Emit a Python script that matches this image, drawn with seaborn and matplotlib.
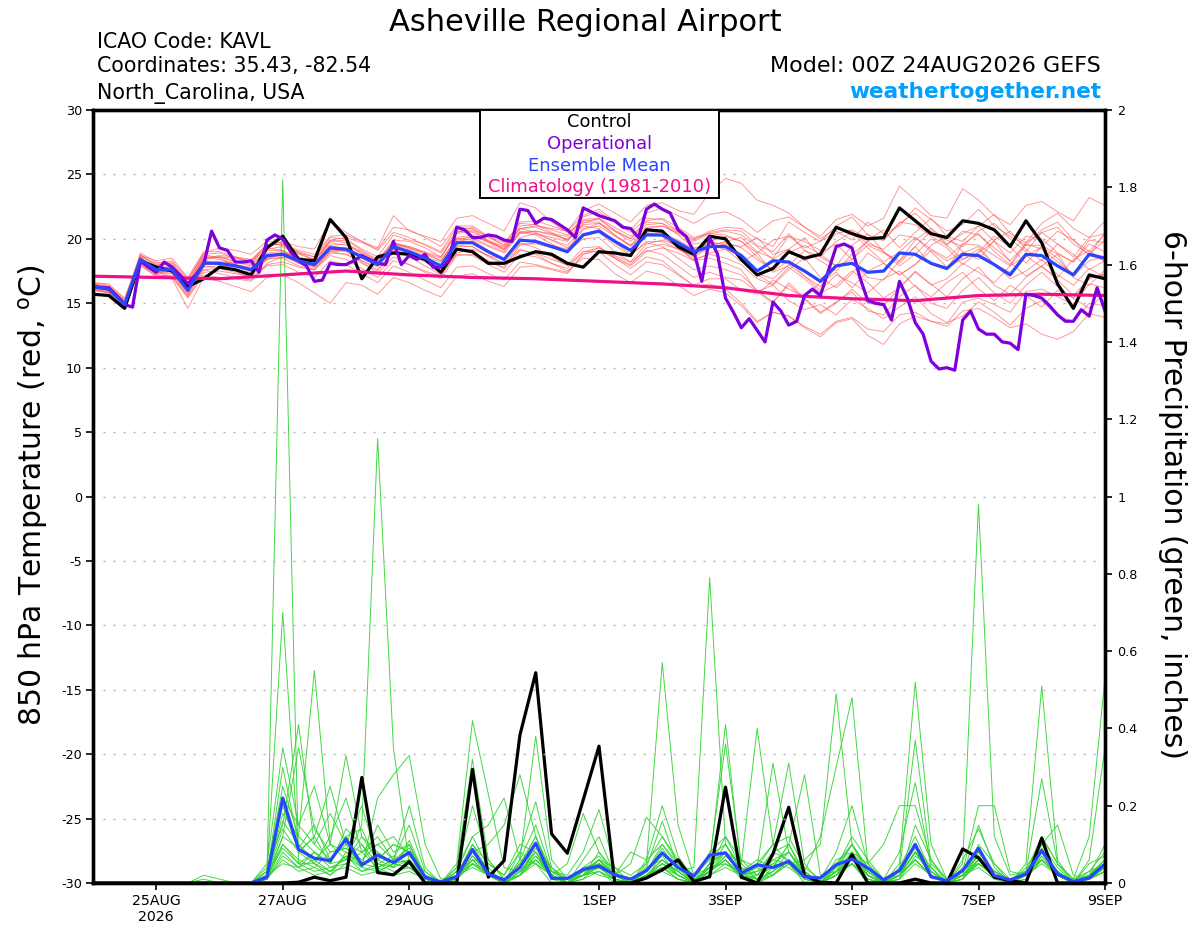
import numpy as np
import pandas as pd
import matplotlib
matplotlib.use("Agg")
import matplotlib.pyplot as plt
from matplotlib.patches import Rectangle
import seaborn as sns

# ------------------------------------------------------------
# GEFS meteogram - Asheville Regional Airport (KAVL)
# 850 hPa temperature (left axis) + 6-hour precipitation (right axis)
# ------------------------------------------------------------

sns.set_theme(style="ticks")
plt.rcParams["font.family"] = ["DejaVu Sans"]
plt.rcParams["axes.unicode_minus"] = False
plt.rcParams["mathtext.default"] = "regular"
plt.rcParams.update({"text.color": "black", "axes.labelcolor": "black",
                     "xtick.color": "black", "ytick.color": "black"})

# time axis: hours after 00Z 24AUG2026
hours = np.arange(0, 385, 6)        # ensemble, 6-hourly
op_hours = np.arange(0, 385, 3)     # operational run, 3-hourly
clim_hours = np.arange(0, 385, 24)  # climatology, daily
tick_hours = [24, 72, 120, 192, 240, 288, 336, 384]
tick_labels = ["25AUG\n2026", "27AUG", "29AUG", "1SEP", "3SEP", "5SEP", "7SEP", "9SEP"]
temp_ticks = [-30, -25, -20, -15, -10, -5, 0, 5, 10, 15, 20, 25, 30]
precip_ticks = [0, 0.2, 0.4, 0.6, 0.8, 1, 1.2, 1.4, 1.6, 1.8, 2]

# ---------------- 850 hPa temperature (deg C) ----------------
control_temp = [15.7, 15.6, 14.6, 18.3, 17.8, 17.5, 16.3, 16.9, 17.8, 17.6, 17.2, 19.3,
                20.2, 18.4, 18.3, 21.5, 20.1, 16.9, 18.6, 18.9, 18.8, 18.4, 17.4, 19.2,
                19.0, 18.1, 18.1, 18.6, 19.0, 18.8, 18.1, 17.8, 19.0, 18.9, 18.7, 20.7,
                20.6, 19.4, 18.8, 20.2, 20.0, 18.4, 17.2, 17.7, 19.0, 18.5, 18.8, 20.9,
                20.4, 20.0, 20.1, 22.4, 21.4, 20.4, 20.1, 21.4, 21.2, 20.7, 19.4, 21.4,
                19.7, 16.5, 14.6, 17.2, 16.9]

mean_temp = [16.3, 16.1, 14.9, 18.4, 17.6, 17.6, 16.0, 18.1, 18.1, 17.9, 17.6, 18.7,
             18.8, 18.3, 18.0, 19.3, 19.2, 18.6, 18.0, 19.4, 19.0, 18.5, 17.9, 19.7,
             19.7, 19.0, 18.4, 19.9, 19.8, 19.4, 19.0, 20.3, 20.6, 19.8, 19.1, 20.3,
             20.3, 19.7, 19.0, 19.4, 19.4, 18.7, 17.5, 18.3, 18.2, 17.5, 16.7, 17.9,
             18.1, 17.4, 17.5, 18.9, 18.8, 18.1, 17.7, 18.8, 18.7, 18.0, 17.2, 18.8,
             18.7, 17.9, 17.2, 18.8, 18.5]

operational_temp = [16.3, 16.2, 16.2, 15.6, 14.9, 14.7, 18.3, 17.8, 17.4, 18.2,
                    17.8, 17.2, 16.5, 17.2, 18.0, 20.6, 19.3, 19.1, 18.2, 18.2,
                    18.3, 17.4, 19.9, 20.3, 20.0, 19.0, 18.3, 17.9, 16.7, 16.8,
                    18.1, 18.0, 18.0, 18.3, 18.7, 18.4, 18.1, 18.0, 19.8, 18.0,
                    18.7, 18.4, 18.8, 17.8, 17.8, 18.3, 20.9, 20.7, 20.1, 20.1,
                    20.3, 20.2, 19.9, 19.8, 22.3, 22.2, 21.2, 21.6, 21.5, 21.1,
                    20.7, 20.1, 22.4, 22.1, 21.8, 21.6, 21.4, 20.9, 20.8, 20.1,
                    22.3, 22.7, 22.3, 22.0, 20.7, 20.2, 19.0, 16.7, 20.1, 18.8,
                    15.4, 14.3, 13.1, 13.8, 12.9, 12.0, 15.1, 14.4, 13.3, 13.6,
                    15.6, 16.1, 15.6, 17.5, 19.4, 19.6, 19.3, 17.0, 15.2, 15.0,
                    14.9, 13.7, 16.7, 15.4, 13.5, 12.6, 10.5, 9.9, 10.0, 9.8,
                    13.7, 14.4, 13.0, 12.6, 12.6, 12.0, 11.9, 11.4, 15.7, 15.6,
                    15.4, 14.8, 14.1, 13.6, 13.6, 14.5, 14.0, 16.2, 14.4]

climatology_temp = [17.1, 17.0, 16.9, 17.2, 17.5, 17.2, 17.0, 16.9, 16.7,
                    16.5, 16.2, 15.6, 15.35, 15.2, 15.6, 15.7, 15.6]

temp_members = [
    [16.5, 16.3, 15.1, 18.9, 18.2, 17.9, 16.6, 18.8, 18.9, 18.5, 18.2, 19.6, 19.5, 18.9, 18.6, 20.1,
     20.0, 19.2, 18.6, 20.3, 19.9, 19.6, 19.0, 20.9, 20.8, 19.8, 19.2, 20.5, 20.3, 19.6, 19.0, 20.0,
     20.1, 19.0, 18.2, 19.1, 18.8, 17.9, 17.0, 17.4, 17.0, 16.8, 15.9, 16.4, 15.2, 14.5, 14.9, 14.1,
     15.3, 14.6, 13.8, 14.7, 15.5, 14.2, 13.5, 14.0, 15.1, 14.3, 13.3, 14.6, 15.2, 14.0, 13.6, 15.0, 14.8],
    [16.2, 16.0, 14.8, 18.2, 17.4, 17.3, 15.7, 17.8, 17.9, 17.8, 17.5, 18.4, 18.9, 18.6, 18.3, 19.8,
     19.9, 19.1, 18.4, 19.7, 19.3, 18.9, 18.5, 20.5, 20.9, 20.1, 19.5, 21.3, 21.4, 21.0, 20.6, 21.8,
     22.3, 21.4, 20.7, 22.0, 22.4, 21.8, 21.2, 21.9, 22.1, 21.5, 20.5, 21.4, 21.7, 20.9, 20.2, 21.5,
     21.9, 21.0, 21.6, 24.1, 23.0, 21.8, 21.6, 23.9, 23.0, 21.8, 21.1, 22.6, 22.9, 22.1, 21.4, 23.2, 22.6],
    [16.4, 16.2, 15.0, 18.0, 17.2, 17.5, 16.2, 17.6, 17.3, 17.0, 16.8, 17.9, 18.0, 17.4, 17.0, 18.3,
     18.0, 17.3, 16.6, 17.9, 17.4, 16.8, 16.2, 17.8, 17.9, 17.3, 16.8, 18.2, 18.0, 17.7, 17.4, 18.8,
     19.1, 18.5, 17.9, 19.0, 19.3, 18.9, 18.3, 18.9, 19.2, 18.2, 18.9, 17.4, 17.9, 19.1, 18.3, 17.5,
     18.8, 19.8, 19.0, 18.1, 19.4, 20.6, 19.5, 18.4, 18.9, 19.8, 18.2, 17.1, 17.9, 18.8, 17.0, 16.4, 17.6],
    [16.0, 15.9, 14.7, 18.5, 17.8, 17.8, 16.3, 18.4, 18.6, 18.2, 17.9, 19.2, 19.4, 18.8, 18.4, 19.7,
     19.5, 18.9, 18.3, 19.6, 19.2, 18.6, 17.9, 19.5, 19.4, 18.6, 18.0, 19.2, 18.8, 18.1, 17.5, 18.5,
     18.4, 17.3, 16.6, 17.5, 17.2, 16.4, 15.6, 16.1, 15.8, 14.8, 13.5, 14.3, 14.0, 13.2, 12.6, 13.6,
     13.9, 13.0, 12.8, 14.1, 14.3, 13.6, 13.2, 14.4, 14.6, 13.9, 13.1, 13.4, 12.6, 12.2, 12.8, 14.2, 13.9],
    [16.6, 16.4, 15.3, 18.6, 17.5, 17.0, 15.4, 17.2, 17.0, 16.9, 16.7, 18.1, 18.6, 18.4, 18.2, 19.5,
     19.6, 19.0, 18.3, 19.9, 19.8, 19.3, 18.6, 20.4, 20.6, 19.9, 19.3, 20.8, 20.9, 20.4, 19.9, 21.1,
     21.2, 20.3, 19.5, 20.5, 20.2, 19.3, 18.4, 18.8, 18.5, 18.0, 16.9, 16.4, 17.6, 18.5, 17.0, 16.2,
     17.3, 18.9, 18.1, 17.2, 18.0, 19.5, 20.2, 19.0, 18.4, 19.9, 20.6, 19.2, 18.3, 19.6, 18.8, 17.6, 18.3],
    [16.1, 15.8, 14.6, 18.0, 17.9, 18.2, 16.8, 18.9, 19.3, 19.1, 18.8, 19.8, 19.7, 18.9, 18.4, 19.5,
     19.1, 18.2, 17.3, 18.6, 18.0, 17.4, 16.9, 18.7, 18.8, 18.2, 17.8, 19.5, 19.7, 19.5, 19.2, 20.7,
     21.2, 20.6, 20.0, 21.4, 21.6, 20.9, 20.1, 20.4, 20.3, 19.8, 18.6, 17.5, 18.3, 17.1, 16.0, 17.2,
     16.6, 15.8, 16.9, 17.5, 16.3, 15.5, 16.6, 17.4, 16.1, 15.2, 16.4, 15.6, 14.7, 16.0, 15.4, 14.6, 15.8],
    [16.3, 16.2, 15.2, 18.3, 17.3, 17.6, 16.0, 18.3, 18.0, 17.6, 17.2, 18.5, 18.9, 18.5, 18.3, 19.9,
     20.1, 19.7, 19.2, 20.9, 20.7, 20.1, 19.4, 21.0, 21.0, 20.2, 19.5, 20.8, 20.5, 19.9, 19.3, 20.4,
     20.5, 19.5, 18.7, 19.8, 19.8, 19.2, 18.6, 19.3, 19.6, 19.4, 20.1, 18.8, 19.2, 18.3, 18.9, 19.6,
     18.4, 19.9, 20.7, 19.3, 20.5, 21.6, 20.2, 19.8, 21.0, 21.9, 20.4, 19.7, 21.2, 22.0, 20.8, 20.1, 21.4],
    [16.4, 16.1, 14.9, 18.1, 17.0, 16.9, 14.6, 17.0, 16.7, 16.3, 15.9, 17.0, 17.2, 16.6, 15.8, 15.0,
     16.6, 16.4, 15.7, 17.0, 16.6, 16.0, 15.5, 17.1, 17.3, 16.7, 16.3, 17.8, 17.9, 17.6, 17.3, 18.8,
     19.3, 18.7, 18.2, 19.6, 19.9, 19.5, 18.9, 19.8, 20.2, 19.8, 18.9, 19.9, 20.2, 19.8, 19.1, 20.4,
     20.7, 20.0, 19.9, 21.3, 21.1, 20.2, 19.5, 20.6, 20.3, 19.3, 18.3, 19.6, 19.2, 18.2, 17.3, 18.7, 18.3],
    [16.2, 16.0, 15.0, 18.7, 18.0, 18.0, 16.5, 18.6, 18.6, 18.3, 18.0, 19.1, 19.1, 18.5, 18.0, 19.2,
     19.0, 18.3, 17.6, 19.1, 18.8, 18.4, 17.9, 19.8, 20.0, 19.4, 18.9, 20.4, 20.6, 20.4, 20.2, 21.7,
     22.1, 21.3, 20.5, 21.6, 21.5, 20.6, 19.6, 19.8, 19.5, 18.8, 17.2, 16.5, 17.8, 16.9, 15.8, 16.4,
     17.5, 16.6, 15.4, 16.2, 17.4, 16.5, 15.5, 16.9, 17.8, 16.4, 15.7, 17.0, 17.9, 16.8, 15.6, 16.9, 17.3],
    [16.5, 16.3, 15.2, 18.4, 17.7, 17.9, 16.4, 18.5, 18.7, 18.6, 18.4, 19.5, 19.6, 19.0, 18.6, 19.9,
     19.7, 18.8, 18.0, 19.2, 18.6, 17.9, 17.2, 18.8, 18.7, 18.0, 17.4, 18.8, 18.6, 18.1, 17.7, 19.0,
     19.3, 18.6, 18.0, 19.3, 19.6, 19.2, 18.7, 19.4, 19.8, 20.1, 19.0, 18.5, 20.2, 19.3, 19.8, 20.6,
     19.9, 21.3, 20.4, 21.0, 22.4, 21.5, 20.6, 21.1, 22.3, 21.0, 20.2, 19.5, 20.7, 21.3, 19.9, 19.0, 20.4],
    [16.1, 15.9, 14.7, 17.9, 17.1, 17.2, 15.6, 17.6, 17.7, 17.6, 17.4, 18.6, 18.7, 18.1, 17.8, 19.1,
     19.1, 18.6, 18.1, 19.6, 19.4, 19.0, 18.6, 20.5, 20.7, 20.2, 19.7, 21.2, 21.1, 20.5, 19.9, 21.0,
     20.8, 19.7, 18.8, 19.7, 19.4, 18.5, 17.6, 17.9, 17.6, 17.2, 16.0, 15.1, 16.4, 15.3, 14.2, 15.0,
     16.1, 15.0, 14.8, 16.2, 17.5, 16.4, 16.9, 18.1, 17.4, 16.6, 17.9, 18.7, 17.8, 17.0, 18.4, 19.1, 18.2],
    [16.3, 16.0, 14.8, 18.6, 18.1, 18.3, 16.9, 18.8, 18.5, 18.0, 17.5, 18.5, 18.5, 17.9, 17.6, 18.9,
     18.8, 18.3, 17.8, 19.3, 19.0, 18.6, 18.2, 20.1, 20.3, 19.7, 19.1, 20.6, 20.4, 19.9, 19.5, 20.8,
     21.0, 20.2, 19.5, 20.8, 21.0, 20.5, 19.9, 20.5, 20.7, 20.6, 19.5, 19.0, 20.4, 19.1, 18.6, 19.8,
     20.5, 19.3, 18.2, 19.0, 20.1, 19.0, 17.8, 18.4, 19.2, 18.0, 16.9, 17.5, 18.4, 17.2, 16.4, 17.7, 17.0],
    [16.6, 16.5, 15.4, 18.8, 17.9, 17.7, 16.1, 18.0, 18.2, 18.2, 18.1, 19.4, 19.8, 19.4, 19.2, 21.4,
     20.5, 19.8, 19.1, 20.5, 20.1, 19.5, 18.9, 20.6, 20.5, 19.8, 19.2, 20.8, 21.0, 20.8, 20.6, 22.2,
     22.7, 22.0, 21.3, 22.6, 22.8, 22.2, 21.9, 23.6, 24.7, 24.3, 23.0, 22.6, 22.0, 20.9, 20.0, 20.8,
     20.6, 19.6, 19.2, 20.3, 20.1, 19.2, 18.5, 19.6, 19.5, 18.7, 17.9, 19.5, 19.5, 18.8, 18.2, 19.9, 19.7],
    [16.0, 15.8, 14.6, 18.2, 17.6, 17.4, 15.8, 17.9, 17.7, 17.4, 17.0, 18.0, 18.2, 17.8, 17.6, 19.0,
     19.1, 18.6, 18.1, 19.7, 19.4, 18.9, 18.3, 20.0, 19.9, 19.1, 18.4, 19.7, 19.3, 18.6, 17.9, 19.0,
     19.0, 18.0, 17.2, 18.2, 18.0, 17.2, 16.4, 16.9, 16.9, 16.0, 15.7, 16.8, 16.1, 15.5, 16.6, 17.4,
     16.2, 17.5, 18.1, 17.2, 18.0, 19.1, 18.3, 18.9, 19.4, 18.0, 17.4, 18.6, 19.4, 18.5, 17.1, 18.3, 18.6],
    [16.4, 16.3, 15.1, 18.5, 17.9, 18.1, 16.6, 18.6, 18.4, 18.0, 17.7, 18.8, 18.8, 18.1, 17.6, 18.7,
     18.4, 17.7, 17.0, 18.3, 18.0, 17.5, 17.1, 18.9, 19.2, 18.7, 18.4, 20.1, 20.4, 20.1, 19.8, 21.2,
     21.6, 20.9, 20.2, 21.3, 21.2, 20.3, 19.3, 19.5, 19.2, 18.6, 17.3, 16.9, 18.0, 17.1, 16.3, 17.8,
     18.2, 17.0, 16.8, 18.3, 19.4, 18.0, 17.6, 19.6, 20.4, 19.0, 18.0, 19.7, 20.5, 19.6, 18.6, 20.1, 20.4],
    [16.2, 16.1, 15.0, 18.1, 17.4, 17.6, 16.2, 18.4, 18.6, 18.5, 18.3, 19.5, 19.6, 19.1, 18.8, 20.2,
     20.3, 19.8, 19.3, 21.8, 20.6, 20.2, 19.8, 21.6, 21.8, 21.2, 20.6, 22.8, 22.4, 21.3, 20.5, 21.3,
     21.3, 20.3, 19.4, 20.4, 20.2, 19.3, 18.3, 18.5, 18.1, 17.6, 15.9, 15.0, 16.6, 15.4, 14.3, 15.1,
     15.9, 14.4, 14.1, 15.5, 16.4, 15.0, 14.6, 16.0, 17.0, 15.8, 15.0, 16.4, 17.4, 16.3, 15.4, 17.0, 17.2],
    [16.5, 16.2, 15.0, 18.3, 17.2, 17.1, 15.5, 17.4, 17.5, 17.3, 17.1, 18.4, 18.6, 18.2, 17.9, 19.2,
     19.2, 18.7, 18.2, 19.6, 19.3, 18.8, 18.3, 20.0, 20.1, 19.5, 19.0, 20.5, 20.6, 20.3, 20.0, 21.4,
     21.5, 20.7, 20.0, 21.1, 21.2, 20.6, 20.0, 20.6, 20.9, 20.8, 20.0, 19.4, 21.3, 20.5, 19.8, 21.0,
     21.7, 20.3, 19.9, 21.2, 22.0, 20.8, 19.6, 20.4, 21.0, 19.8, 18.9, 20.2, 20.0, 18.9, 18.2, 19.6, 19.0],
    [16.3, 16.2, 15.1, 18.4, 17.7, 17.8, 16.3, 18.3, 18.2, 18.0, 17.8, 18.9, 19.0, 18.5, 18.1, 19.4,
     19.3, 18.7, 18.0, 19.3, 18.8, 18.2, 17.5, 19.1, 19.0, 18.3, 17.7, 19.1, 18.9, 18.4, 18.0, 19.3,
     19.4, 18.5, 17.7, 18.6, 18.3, 17.3, 16.3, 16.5, 16.1, 15.0, 13.6, 14.3, 14.0, 13.1, 12.4, 13.5,
     13.8, 12.5, 11.8, 13.4, 14.0, 13.6, 13.4, 15.1, 15.4, 14.9, 14.3, 15.9, 16.1, 15.5, 14.9, 16.5, 16.2],
    [16.1, 16.0, 14.9, 18.7, 18.3, 18.5, 17.0, 19.0, 19.0, 18.6, 18.2, 19.3, 19.1, 18.3, 17.8, 19.0,
     18.8, 18.1, 17.5, 19.0, 18.8, 18.4, 18.0, 19.9, 20.2, 19.8, 19.4, 21.0, 21.1, 20.7, 20.3, 21.5,
     21.6, 20.6, 19.8, 20.9, 21.0, 20.4, 19.8, 20.4, 20.6, 20.3, 19.4, 18.4, 19.2, 20.1, 18.6, 17.9,
     19.5, 20.4, 19.0, 17.9, 18.8, 20.0, 19.3, 18.0, 19.0, 20.2, 19.4, 18.1, 19.4, 20.6, 19.9, 18.7, 20.5],
    [16.4, 16.1, 14.9, 18.2, 17.5, 17.6, 16.1, 18.1, 18.1, 17.9, 17.6, 18.7, 18.8, 18.3, 18.0, 19.3,
     19.2, 18.6, 18.0, 19.4, 18.9, 18.3, 17.7, 19.4, 19.4, 18.7, 18.1, 19.6, 19.6, 19.3, 19.0, 20.4,
     20.7, 19.9, 19.2, 20.4, 20.5, 19.9, 19.2, 19.6, 19.7, 19.3, 18.4, 17.6, 18.9, 19.5, 18.8, 17.9,
     18.4, 19.5, 18.9, 18.3, 19.9, 20.8, 19.9, 19.4, 20.6, 21.2, 20.0, 19.0, 20.5, 20.9, 19.6, 18.8, 19.9],
]

# ---------------- 6-hour precipitation (inches) ----------------
control_precip = [0, 0, 0, 0, 0, 0, 0, 0, 0, 0, 0, 0,
                  0, 0.002, 0.015, 0.006, 0.015, 0.273, 0.027, 0.021, 0.055, 0, 0, 0,
                  0.294, 0.015, 0.058, 0.383, 0.544, 0.127, 0.077, 0.215, 0.354, 0, 0, 0.013,
                  0.034, 0.06, 0.004, 0.016, 0.248, 0.015, 0, 0.075, 0.196, 0.019, 0.002, 0,
                  0.073, 0, 0, 0, 0.01, 0, 0, 0.088, 0.065, 0.015, 0.006, 0,
                  0.116, 0, 0, 0, 0]

mean_precip = [0, 0, 0, 0, 0, 0, 0, 0.001, 0, 0, 0, 0.015,
               0.22, 0.087, 0.064, 0.058, 0.114, 0.047, 0.072, 0.053, 0.079, 0.015, 0.003, 0.016,
               0.087, 0.023, 0.008, 0.04, 0.103, 0.012, 0.012, 0.035, 0.044, 0.021, 0.01, 0.032,
               0.078, 0.04, 0.018, 0.072, 0.078, 0.025, 0.047, 0.04, 0.056, 0.016, 0.013, 0.047,
               0.062, 0.039, 0.008, 0.032, 0.10, 0.016, 0.006, 0.032, 0.09, 0.019, 0.008, 0.023,
               0.084, 0.023, 0.004, 0.013, 0.049]

precip_members = [
    [0, 0, 0, 0, 0, 0, 0, 0, 0, 0, 0, 0.02, 1.82, 0.05, 0.05, 0.02, 0.08, 0.04, 0.03, 0.02, 0.06, 0, 0, 0.01,
     0.05, 0.02, 0, 0.03, 0.08, 0.01, 0, 0.02, 0.03, 0, 0, 0.02, 0.06, 0.02, 0, 0.05, 0.41, 0.03, 0, 0.02,
     0.05, 0, 0, 0.03, 0.06, 0.01, 0, 0.02, 0.08, 0.02, 0, 0.01, 0.05, 0.02, 0, 0.01, 0.06, 0.02, 0, 0.01, 0.03],
    [0, 0, 0, 0, 0, 0, 0, 0, 0, 0, 0, 0.03, 0.70, 0.08, 0.12, 0.05, 0.14, 0.1, 0.05, 0.03, 0.04, 0.01, 0, 0.02,
     0.1, 0.03, 0.01, 0.05, 0.12, 0.02, 0, 0.06, 0.12, 0.02, 0, 0.01, 0.08, 0.04, 0.01, 0.03, 0.06, 0.01, 0.02, 0.04,
     0.1, 0.03, 0, 0.02, 0.05, 0, 0, 0.04, 0.12, 0.03, 0, 0.02, 0.06, 0.03, 0.01, 0.02, 0.1, 0.04, 0, 0.02, 0.06],
    [0, 0, 0, 0, 0, 0, 0, 0, 0, 0, 0, 0.05, 0.35, 0.15, 0.25, 0.1, 0.06, 0.12, 0.08, 0.04, 0.1, 0.02, 0, 0.01,
     0.06, 0.05, 0.02, 0.08, 0.05, 0, 0, 0.04, 0.02, 0.01, 0, 0.03, 0.1, 0.05, 0.02, 0.06, 0.36, 0.05, 0.01, 0.06,
     0.08, 0.02, 0, 0.05, 0.1, 0.04, 0, 0.01, 0.15, 0.06, 0.01, 0.03, 0.07, 0.02, 0, 0.02, 0.12, 0.05, 0.01, 0.03, 0.08],
    [0, 0, 0, 0, 0, 0, 0, 0, 0, 0, 0, 0.02, 0.30, 0.1, 0.05, 0.12, 0.22, 0.08, 0.1, 0.06, 0.15, 0.03, 0, 0.02,
     0.08, 0.02, 0, 0.02, 0.1, 0.04, 0.01, 0.02, 0.05, 0.02, 0, 0.04, 0.06, 0.03, 0, 0.05, 0.08, 0.02, 0.04, 0.1,
     0.12, 0.04, 0.01, 0.08, 0.2, 0.05, 0.01, 0.02, 0.08, 0.03, 0, 0.06, 0.14, 0.05, 0, 0.02, 0.09, 0.02, 0, 0.01, 0.04],
    [0, 0, 0, 0, 0, 0, 0, 0.01, 0, 0, 0, 0.03, 0.25, 0.12, 0.08, 0.05, 0.12, 0.05, 0.15, 0.08, 0.1, 0.01, 0, 0.03,
     0.2, 0.06, 0.01, 0.04, 0.12, 0.02, 0, 0.03, 0.06, 0.02, 0, 0.05, 0.12, 0.06, 0.02, 0.07, 0.1, 0.03, 0.06, 0.04,
     0.1, 0.02, 0, 0.06, 0.08, 0.05, 0.1, 0.2, 0.2, 0.06, 0, 0.01, 0.1, 0.05, 0.01, 0.02, 0.08, 0.03, 0, 0.02, 0.1],
    [0, 0, 0, 0, 0, 0, 0, 0, 0, 0, 0, 0.01, 0.22, 0.15, 0.1, 0.18, 0.1, 0.2, 0.06, 0.1, 0.08, 0.02, 0, 0.04,
     0.12, 0.04, 0, 0.06, 0.15, 0.03, 0.01, 0.02, 0.08, 0.03, 0, 0.02, 0.04, 0.01, 0, 0.08, 0.12, 0.04, 0.01, 0.03,
     0.06, 0.01, 0, 0.03, 0.1, 0.03, 0, 0.05, 0.52, 0.1, 0.01, 0.02, 0.15, 0.04, 0, 0.03, 0.12, 0.05, 0.01, 0.02, 0.05],
    [0, 0, 0, 0, 0, 0, 0, 0, 0, 0, 0, 0.04, 0.15, 0.41, 0.1, 0.06, 0.12, 0.14, 0.05, 0.07, 0.05, 0.01, 0, 0.02,
     0.1, 0.05, 0.02, 0.1, 0.08, 0.02, 0, 0.04, 0.07, 0.02, 0.08, 0.06, 0.1, 0.04, 0, 0.05, 0.08, 0.02, 0.01, 0.05,
     0.04, 0.01, 0, 0.02, 0.08, 0.02, 0, 0.03, 0.37, 0.05, 0.01, 0.02, 0.06, 0.03, 0, 0.02, 0.09, 0.03, 0, 0.05, 0.07],
    [0, 0, 0, 0, 0, 0, 0, 0, 0, 0, 0, 0.02, 0.12, 0.35, 0.14, 0.08, 0.09, 0.06, 0.1, 0.12, 0.07, 0.03, 0, 0.02,
     0.06, 0.02, 0, 0.05, 0.1, 0.03, 0, 0.02, 0.04, 0.02, 0.05, 0.17, 0.12, 0.05, 0, 0.03, 0.06, 0.02, 0.03, 0.08,
     0.06, 0.02, 0, 0.04, 0.12, 0.06, 0.01, 0.08, 0.26, 0.04, 0, 0.01, 0.08, 0.02, 0, 0.03, 0.06, 0.02, 0, 0.03, 0.05],
    [0, 0, 0, 0, 0, 0, 0, 0, 0, 0, 0, 0.01, 0.18, 0.12, 0.55, 0.1, 0.08, 0.05, 0.04, 0.06, 0.09, 0.02, 0, 0.01,
     0.05, 0.03, 0, 0.02, 0.06, 0.02, 0, 0.03, 0.06, 0.04, 0.02, 0.05, 0.57, 0.15, 0.02, 0.04, 0.05, 0.02, 0, 0.03,
     0.08, 0.03, 0, 0.02, 0.05, 0.01, 0, 0.02, 0.1, 0.03, 0, 0.04, 0.05, 0.02, 0, 0.01, 0.07, 0.02, 0, 0.01, 0.03],
    [0, 0, 0, 0, 0, 0, 0, 0, 0, 0, 0, 0.03, 0.2, 0.08, 0.12, 0.25, 0.1, 0.04, 0.08, 0.05, 0.04, 0.01, 0, 0.03,
     0.08, 0.03, 0, 0.02, 0.09, 0.04, 0, 0.02, 0.03, 0.01, 0, 0.06, 0.2, 0.07, 0.01, 0.04, 0.1, 0.04, 0.02, 0.06,
     0.05, 0.01, 0, 0.03, 0.07, 0.02, 0, 0.02, 0.08, 0.02, 0, 0.05, 0.98, 0.12, 0.02, 0.03, 0.08, 0.03, 0, 0.02, 0.06],
    [0, 0, 0, 0, 0, 0, 0, 0, 0, 0, 0, 0.02, 0.16, 0.1, 0.06, 0.1, 0.33, 0.12, 0.06, 0.04, 0.11, 0.02, 0, 0.02,
     0.07, 0.02, 0, 0.03, 0.06, 0.02, 0, 0.04, 0.05, 0.02, 0, 0.04, 0.16, 0.04, 0, 0.03, 0.07, 0.03, 0.04, 0.02,
     0.06, 0.02, 0, 0.03, 0.06, 0.02, 0, 0.01, 0.07, 0.04, 0, 0.03, 0.2, 0.2, 0.03, 0.02, 0.07, 0.02, 0, 0.01, 0.04],
    [0, 0, 0, 0, 0, 0, 0, 0, 0, 0, 0, 0.01, 0.1, 0.05, 0.08, 0.04, 0.06, 0.15, 1.15, 0.35, 0.05, 0.01, 0, 0.02,
     0.06, 0.02, 0, 0.03, 0.08, 0.02, 0, 0.01, 0.05, 0.02, 0, 0.03, 0.09, 0.03, 0, 0.04, 0.12, 0.06, 0.02, 0.08,
     0.1, 0.28, 0.02, 0.03, 0.05, 0.02, 0, 0.03, 0.09, 0.02, 0, 0.01, 0.06, 0.02, 0, 0.02, 0.08, 0.03, 0, 0.02, 0.05],
    [0, 0, 0, 0, 0, 0, 0, 0, 0, 0, 0, 0.02, 0.14, 0.08, 0.05, 0.03, 0.07, 0.04, 0.22, 0.28, 0.33, 0.1, 0.01, 0.02,
     0.05, 0.02, 0, 0.02, 0.07, 0.02, 0, 0.03, 0.06, 0.01, 0, 0.02, 0.05, 0.02, 0, 0.03, 0.08, 0.02, 0, 0.04,
     0.06, 0.02, 0, 0.03, 0.08, 0.03, 0, 0.02, 0.1, 0.04, 0, 0.03, 0.07, 0.03, 0, 0.05, 0.51, 0.06, 0, 0.02, 0.05],
    [0, 0, 0, 0, 0, 0, 0, 0, 0, 0, 0, 0.01, 0.12, 0.09, 0.15, 0.06, 0.1, 0.08, 0.12, 0.06, 0.2, 0.04, 0, 0.01,
     0.07, 0.03, 0, 0.02, 0.05, 0.02, 0, 0.02, 0.04, 0.01, 0, 0.02, 0.06, 0.03, 0.04, 0.79, 0.1, 0.03, 0.01, 0.02,
     0.06, 0.02, 0, 0.02, 0.07, 0.03, 0, 0.02, 0.06, 0.02, 0, 0.02, 0.05, 0.02, 0, 0.02, 0.06, 0.02, 0, 0.01, 0.04],
    [0, 0, 0, 0, 0, 0, 0, 0, 0, 0, 0, 0.02, 0.1, 0.06, 0.04, 0.08, 0.09, 0.05, 0.06, 0.1, 0.08, 0.02, 0, 0.05,
     0.42, 0.23, 0.04, 0.03, 0.07, 0.02, 0, 0.02, 0.05, 0.02, 0, 0.03, 0.07, 0.02, 0, 0.03, 0.06, 0.02, 0.03, 0.05,
     0.08, 0.03, 0, 0.04, 0.1, 0.04, 0, 0.02, 0.06, 0.02, 0, 0.03, 0.08, 0.03, 0.01, 0.03, 0.27, 0.05, 0, 0.02, 0.06],
    [0, 0, 0, 0, 0, 0, 0, 0, 0, 0, 0, 0.01, 0.08, 0.04, 0.06, 0.03, 0.07, 0.03, 0.05, 0.04, 0.06, 0.01, 0, 0.04,
     0.32, 0.06, 0.01, 0.02, 0.06, 0.02, 0, 0.01, 0.03, 0.01, 0, 0.02, 0.05, 0.03, 0, 0.04, 0.08, 0.05, 0.40, 0.1,
     0.05, 0.02, 0, 0.02, 0.06, 0.02, 0, 0.02, 0.08, 0.02, 0, 0.02, 0.05, 0.02, 0, 0.04, 0.1, 0.15, 0.02, 0.01, 0.03],
    [0, 0, 0, 0, 0, 0, 0, 0, 0, 0, 0, 0.02, 0.09, 0.05, 0.03, 0.04, 0.05, 0.08, 0.04, 0.02, 0.03, 0.01, 0, 0.02,
     0.05, 0.02, 0, 0.06, 0.38, 0.06, 0.01, 0.02, 0.06, 0.02, 0, 0.02, 0.04, 0.02, 0, 0.03, 0.07, 0.06, 0.04, 0.31,
     0.08, 0.02, 0, 0.02, 0.05, 0.01, 0, 0.02, 0.06, 0.02, 0, 0.02, 0.04, 0.01, 0, 0.03, 0.06, 0.02, 0.01, 0.12, 0.53],
    [0, 0, 0, 0, 0, 0, 0, 0, 0, 0, 0, 0.01, 0.07, 0.04, 0.08, 0.05, 0.06, 0.1, 0.03, 0.05, 0.04, 0.02, 0, 0.02,
     0.04, 0.02, 0, 0.08, 0.21, 0.04, 0, 0.03, 0.04, 0.01, 0, 0.02, 0.03, 0.01, 0, 0.02, 0.05, 0.03, 0.05, 0.1,
     0.31, 0.05, 0, 0.03, 0.06, 0.02, 0, 0.01, 0.05, 0.02, 0, 0.02, 0.05, 0.02, 0, 0.02, 0.08, 0.03, 0, 0.06, 0.35],
    [0, 0, 0, 0, 0, 0, 0, 0, 0, 0, 0, 0.01, 0.06, 0.03, 0.04, 0.02, 0.05, 0.03, 0.04, 0.06, 0.05, 0.01, 0, 0.03,
     0.12, 0.15, 0.22, 0.06, 0.05, 0.02, 0.05, 0.18, 0.08, 0.02, 0, 0.02, 0.05, 0.02, 0, 0.02, 0.04, 0.02, 0, 0.02,
     0.05, 0.06, 0.1, 0.49, 0.1, 0.02, 0, 0.02, 0.06, 0.02, 0, 0.02, 0.06, 0.02, 0, 0.02, 0.05, 0.02, 0, 0.01, 0.03],
    [0, 0, 0, 0, 0, 0, 0, 0.02, 0.01, 0, 0, 0.02, 0.05, 0.04, 0.02, 0.03, 0.04, 0.02, 0.03, 0.05, 0.06, 0.02, 0, 0.02,
     0.08, 0.1, 0.15, 0.28, 0.12, 0.03, 0.02, 0.08, 0.19, 0.04, 0, 0.02, 0.04, 0.01, 0, 0.03, 0.06, 0.02, 0.01, 0.03,
     0.06, 0.03, 0.12, 0.3, 0.48, 0.05, 0, 0.02, 0.08, 0.03, 0, 0.02, 0.07, 0.02, 0, 0.02, 0.06, 0.02, 0, 0.02, 0.05],
]

for name, series in [("control_temp", control_temp), ("mean_temp", mean_temp),
                     ("control_precip", control_precip), ("mean_precip", mean_precip)]:
    assert len(series) == len(hours), f"{name}: {len(series)}"
for k, m in enumerate(temp_members):
    assert len(m) == len(hours), f"temp member {k}: {len(m)}"
for k, m in enumerate(precip_members):
    assert len(m) == len(hours), f"precip member {k}: {len(m)}"
assert len(operational_temp) == len(op_hours), len(operational_temp)
assert len(climatology_temp) == len(clim_hours), len(climatology_temp)

# colours
RED = "#ff4a4a"
GREEN = "#2fd42f"
PURPLE = "#8000dc"
BLUE = "#2a45ff"
MAGENTA = "#ee1188"
SITE_BLUE = "#00a0ff"


def members_frame(members, column):
    """Long-form frame (hour, value, member) for seaborn's units= option."""
    frames = [pd.DataFrame({"hour": hours, column: vals, "member": k})
              for k, vals in enumerate(members)]
    return pd.concat(frames, ignore_index=True)


temp_df = members_frame(temp_members, "temp")
precip_df = members_frame(precip_members, "precip")

W, H = 1200, 927
fig = plt.figure(figsize=(W / 100, H / 100), dpi=100)
ax = fig.add_axes([93 / W, 44 / H, 1012 / W, 773 / H])
ax2 = ax.twinx()
ax.set_zorder(ax2.get_zorder() + 1)
ax.patch.set_visible(False)

# precipitation (right axis)
sns.lineplot(data=precip_df, x="hour", y="precip", units="member", estimator=None,
             color=GREEN, linewidth=0.7, alpha=0.9, ax=ax2, legend=False)
sns.lineplot(x=hours, y=control_precip, color="black", linewidth=2.3, ax=ax2)
sns.lineplot(x=hours, y=mean_precip, color=BLUE, linewidth=2.3, ax=ax2)

# dotted grid at every temperature tick
for v in temp_ticks[1:-1]:
    ax.axhline(v, color="#b4b4b4", linewidth=1.0, linestyle=(0, (1.5, 5.7)), zorder=0)

# temperature (left axis)
sns.lineplot(data=temp_df, x="hour", y="temp", units="member", estimator=None,
             color=RED, linewidth=0.65, alpha=0.6, ax=ax, legend=False)
sns.lineplot(x=hours, y=control_temp, color="black", linewidth=2.3, ax=ax)
sns.lineplot(x=clim_hours, y=climatology_temp, color=MAGENTA, linewidth=2.3, ax=ax)
sns.lineplot(x=op_hours, y=operational_temp, color=PURPLE, linewidth=2.3, ax=ax)
sns.lineplot(x=hours, y=mean_temp, color=BLUE, linewidth=2.3, ax=ax)

# axes, ticks, spines
ax.set_xlim(0, 384)
ax.set_ylim(-30, 30)
ax2.set_ylim(0, 2)
ax.set_xticks(tick_hours)
ax.set_xticklabels(tick_labels, fontsize=10.2)
ax.set_yticks(temp_ticks)
ax.set_yticklabels([str(v) for v in temp_ticks], fontsize=9.2)
ax2.set_yticks(precip_ticks)
ax2.set_yticklabels([f"{v:g}" for v in precip_ticks], fontsize=9.2)
ax.tick_params(axis="both", direction="out", length=5, width=1.2, colors="black", pad=3)
ax2.tick_params(axis="y", direction="out", length=5, width=1.2, colors="black", pad=4)
for a in (ax, ax2):
    a.set_xlabel("")
    a.set_ylabel("")
    for sp in a.spines.values():
        sp.set_visible(True)
        sp.set_linewidth(2.4)
        sp.set_color("black")

# legend box (coloured text only, as in the original)
ax.add_patch(Rectangle((0.3824, 0.886), 0.2362, 0.114, transform=ax.transAxes,
                       facecolor="white", edgecolor="black", linewidth=1.4,
                       zorder=10, clip_on=False))
legend_items = [("Control", "black", 0.9777),
                ("Operational", PURPLE, 0.9498),
                ("Ensemble Mean", BLUE, 0.9217),
                ("Climatology (1981-2010)", MAGENTA, 0.8933)]
for label, color, y in legend_items:
    ax.text(0.5005, y, label, color=color, fontsize=12.9, ha="center", va="baseline",
            transform=ax.transAxes, zorder=11)

# header texts
fig.text(585.5 / W, 1 - 31 / H, "Asheville Regional Airport", fontsize=22,
         ha="center", va="baseline")
fig.text(97 / W, 1 - 47.5 / H, "ICAO Code: KAVL", fontsize=14.8, ha="left", va="baseline")
fig.text(97 / W, 1 - 72.5 / H, "Coordinates: 35.43, -82.54", fontsize=14.8,
         ha="left", va="baseline")
fig.text(97 / W, 1 - 99 / H, "North_Carolina, USA", fontsize=14.8, ha="left", va="baseline")
fig.text(1101 / W, 1 - 72.5 / H, "Model: 00Z 24AUG2026 GEFS", fontsize=16,
         ha="right", va="baseline")
fig.text(1101 / W, 1 - 98.5 / H, "weathertogether.net", fontsize=15.6, weight="bold",
         color=SITE_BLUE, ha="right", va="baseline")

# axis titles
fig.text(33 / W, 1 - 495 / H, "850 hPa Temperature (red, $^{o}$C)", fontsize=21.5,
         rotation=90, ha="center", va="center")
fig.text(1172 / W, 1 - 495 / H, "6-hour Precipitation (green, inches)", fontsize=21.5,
         rotation=270, ha="center", va="center")

fig.savefig("out.png", dpi=100)
